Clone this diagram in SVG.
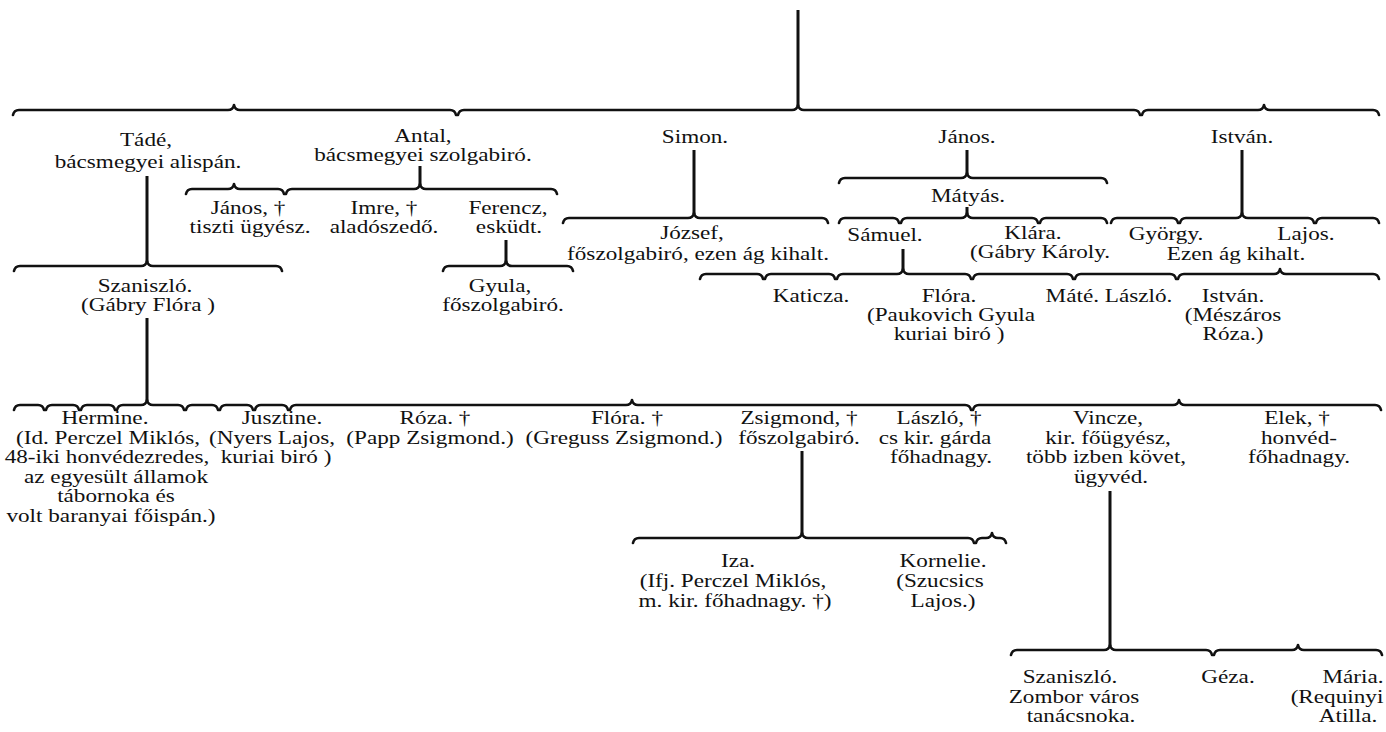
<svg xmlns="http://www.w3.org/2000/svg" width="1386" height="732" viewBox="0 0 1386 732">
<style>
.t{font-family:"Liberation Serif","DejaVu Serif","Times New Roman",serif;font-size:19px;text-anchor:middle;fill:#111}
.b{fill:none;stroke:#111;stroke-width:2.6;stroke-linecap:round;stroke-linejoin:round}
.v{stroke:#111;stroke-width:3;fill:none}
</style>
<rect width="1386" height="732" fill="#fff"/>
<g id="connectors">
<path class="b" d="M13,115 Q14,110 19,110 L228,110 Q233,110 234,105 M234,105 Q235,110 240,110 L450,110 Q455,110 456,115 M458,115 Q459,110 464,110 L792,110 Q797,110 798,105 M798,105 Q799,110 804,110 L1134,110 Q1139,110 1140,115 M1142,115 Q1143,110 1148,110 L1258,110 Q1263,110 1264,105 M1264,105 Q1265,110 1270,110 L1373,110 Q1378,110 1379,115"/>
<path class="b" d="M186,194 Q187,189 192,189 L228,189 Q233,189 234,184 M234,184 Q235,189 240,189 L278,189 Q283,189 284,194 M286,194 Q287,189 292,189 L414,189 Q419,189 420,184 M420,184 Q421,189 426,189 L551,189 Q556,189 557,194"/>
<path class="b" d="M563,223 Q564,218 569,218 L688,218 Q693,218 694,213 M694,213 Q695,218 700,218 L822,218 Q827,218 828,223"/>
<path class="b" d="M839,183 Q840,178 845,178 L961,178 Q966,178 967,173 M967,173 Q968,178 973,178 L1101,178 Q1106,178 1107,183"/>
<path class="b" d="M839,223 Q840,218 845,218 L893,218 Q898,218 899,223 M901,223 Q902,218 907,218 L961,218 Q966,218 967,213 M967,213 Q968,218 973,218 L1032,218 Q1037,218 1038,223 M1040,223 Q1041,218 1046,218 L1101,218 Q1106,218 1107,223"/>
<path class="b" d="M1111,223 Q1112,218 1117,218 L1172,218 Q1177,218 1178,223 M1180,223 Q1181,218 1186,218 L1236,218 Q1241,218 1242,213 M1242,213 Q1243,218 1248,218 L1308,218 Q1313,218 1314,223 M1316,223 Q1317,218 1322,218 L1373,218 Q1378,218 1379,223"/>
<path class="b" d="M14,271 Q15,266 20,266 L141,266 Q146,266 147,261 M147,261 Q148,266 153,266 L276,266 Q281,266 282,271"/>
<path class="b" d="M443,271 Q444,266 449,266 L500,266 Q505,266 506,261 M506,261 Q507,266 512,266 L567,266 Q572,266 573,271"/>
<path class="b" d="M700,279 Q701,274 706,274 L757,274 Q762,274 763,279 M765,279 Q766,274 771,274 L829,274 Q834,274 835,279 M837,279 Q838,274 843,274 L897,274 Q902,274 903,269 M903,269 Q904,274 909,274 L965,274 Q970,274 971,279 M973,279 Q974,274 979,274 L1067,274 Q1072,274 1073,279 M1075,279 Q1076,274 1081,274 L1170,274 Q1175,274 1176,279 M1178,279 Q1179,274 1184,274 L1274,274 Q1279,274 1280,269 M1280,269 Q1281,274 1286,274 L1373,274 Q1378,274 1379,279"/>
<path class="b" d="M14,410 Q15,405 20,405 L38,405 Q43,405 44,410 M46,410 Q47,405 52,405 L73,405 Q78,405 79,410 M81,410 Q82,405 87,405 L109,405 Q114,405 115,410 M117,410 Q118,405 123,405 L141,405 Q146,405 147,400 M147,400 Q148,405 153,405 L178,405 Q183,405 184,410 M186,410 Q187,405 192,405 L212,405 Q217,405 218,410 M220,410 Q221,405 226,405 L247,405 Q252,405 253,410 M255,410 Q256,405 261,405 L282,405 Q287,405 288,410 M290,410 Q291,405 296,405 L626,405 Q631,405 632,400 M632,400 Q633,405 638,405 L965,405 Q970,405 971,410 M973,410 Q974,405 979,405 L1173,405 Q1178,405 1179,400 M1179,400 Q1180,405 1185,405 L1375,405 Q1380,405 1381,410"/>
<path class="b" d="M633,543 Q634,538 639,538 L796,538 Q801,538 802,533 M802,533 Q803,538 808,538 L968,538 Q973,538 974,543 M976,543 Q977,538 982,538 L986,538 Q991,538 992,533 M992,533 Q993,538 998,538 L1000,538 Q1005,538 1006,543"/>
<path class="b" d="M1011,655 Q1012,650 1017,650 L1104,650 Q1109,650 1110,645 M1110,645 Q1111,650 1116,650 L1206,650 Q1211,650 1212,655 M1214,655 Q1215,650 1220,650 L1292,650 Q1297,650 1298,645 M1298,645 Q1299,650 1304,650 L1376,650 Q1381,650 1382,655"/>
<path class="v" d="M798,10 V106 M147,176 V262 M420,166 V185 M694,150 V214 M967,150 V174 M967,207 V214 M1242,150 V214 M506,240 V262 M147,318 V401 M903,249 V270 M802,451 V534 M1110,491 V646"/>
</g>
<g id="tade"><text class="t" transform="translate(146 146) scale(1.22 1)">Tádé,</text><text class="t" transform="translate(148 168) scale(1.22 1)">bácsmegyei alispán.</text></g>
<g id="antal"><text class="t" transform="translate(423 142) scale(1.22 1)">Antal,</text><text class="t" transform="translate(423 161) scale(1.22 1)">bácsmegyei szolgabiró.</text></g>
<g id="simon"><text class="t" transform="translate(695 143) scale(1.22 1)">Simon.</text></g>
<g id="janos"><text class="t" transform="translate(967 143) scale(1.22 1)">János.</text></g>
<g id="istvan"><text class="t" transform="translate(1242 143) scale(1.22 1)">István.</text></g>
<g id="janos2"><text class="t" transform="translate(248 214) scale(1.22 1)">János, †</text><text class="t" transform="translate(250 233) scale(1.22 1)">tiszti ügyész.</text></g>
<g id="imre"><text class="t" transform="translate(384 214) scale(1.22 1)">Imre, †</text><text class="t" transform="translate(384 233) scale(1.22 1)">aladószedő.</text></g>
<g id="ferencz"><text class="t" transform="translate(508 214) scale(1.22 1)">Ferencz,</text><text class="t" transform="translate(509 233) scale(1.22 1)">esküdt.</text></g>
<g id="jozsef"><text class="t" transform="translate(692 239) scale(1.22 1)">József,</text><text class="t" transform="translate(698 260) scale(1.22 1)">főszolgabiró, ezen ág kihalt.</text></g>
<g id="matyas"><text class="t" transform="translate(968 202) scale(1.22 1)">Mátyás.</text></g>
<g id="samuel"><text class="t" transform="translate(885 241) scale(1.22 1)">Sámuel.</text></g>
<g id="klara"><text class="t" transform="translate(1033 239) scale(1.22 1)">Klára.</text><text class="t" transform="translate(1040 258) scale(1.22 1)">(Gábry Károly.</text></g>
<g id="gyorgy"><text class="t" transform="translate(1166 240) scale(1.22 1)">György.</text></g>
<g id="lajos"><text class="t" transform="translate(1306 240) scale(1.22 1)">Lajos.</text></g>
<g id="kihalt"><text class="t" transform="translate(1236 260) scale(1.22 1)">Ezen ág kihalt.</text></g>
<g id="szaniszlo"><text class="t" transform="translate(145 292) scale(1.22 1)">Szaniszló.</text><text class="t" transform="translate(148 311) scale(1.22 1)">(Gábry Flóra )</text></g>
<g id="gyula"><text class="t" transform="translate(500 292) scale(1.22 1)">Gyula,</text><text class="t" transform="translate(503 311) scale(1.22 1)">főszolgabiró.</text></g>
<g id="katicza"><text class="t" transform="translate(811 302) scale(1.22 1)">Katicza.</text></g>
<g id="flora"><text class="t" transform="translate(949 302) scale(1.22 1)">Flóra.</text><text class="t" transform="translate(951 321) scale(1.22 1)">(Paukovich Gyula</text><text class="t" transform="translate(949 340) scale(1.22 1)">kuriai biró )</text></g>
<g id="mate-laszlo"><text class="t" transform="translate(1109 302) scale(1.22 1)">Máté. László.</text></g>
<g id="istvan2"><text class="t" transform="translate(1233 302) scale(1.22 1)">István.</text><text class="t" transform="translate(1233 321) scale(1.22 1)">(Mészáros</text><text class="t" transform="translate(1233 340) scale(1.22 1)">Róza.)</text></g>
<g id="hermine"><text class="t" transform="translate(105 424) scale(1.22 1)">Hermine.</text><text class="t" transform="translate(108 443.5) scale(1.22 1)">(Id. Perczel Miklós,</text><text class="t" transform="translate(107 463) scale(1.22 1)">48-iki honvédezredes,</text><text class="t" transform="translate(116 482.5) scale(1.22 1)">az egyesült államok</text><text class="t" transform="translate(116 502) scale(1.22 1)">tábornoka és</text><text class="t" transform="translate(111 521.5) scale(1.22 1)">volt baranyai főispán.)</text></g>
<g id="jusztine"><text class="t" transform="translate(282 424) scale(1.22 1)">Jusztine.</text><text class="t" transform="translate(272 443.5) scale(1.22 1)">(Nyers Lajos,</text><text class="t" transform="translate(276 463) scale(1.22 1)">kuriai biró )</text></g>
<g id="roza"><text class="t" transform="translate(435 424) scale(1.22 1)">Róza. †</text><text class="t" transform="translate(430 443.5) scale(1.22 1)">(Papp Zsigmond.)</text></g>
<g id="flora2"><text class="t" transform="translate(627 424) scale(1.22 1)">Flóra. †</text><text class="t" transform="translate(624 443.5) scale(1.22 1)">(Greguss Zsigmond.)</text></g>
<g id="zsigmond"><text class="t" transform="translate(799 424) scale(1.22 1)">Zsigmond, †</text><text class="t" transform="translate(799 443.5) scale(1.22 1)">főszolgabiró.</text></g>
<g id="laszlo"><text class="t" transform="translate(939 424) scale(1.22 1)">László, †</text><text class="t" transform="translate(935 443.5) scale(1.22 1)">cs kir. gárda</text><text class="t" transform="translate(941 463) scale(1.22 1)">főhadnagy.</text></g>
<g id="vincze"><text class="t" transform="translate(1108 424) scale(1.22 1)">Vincze,</text><text class="t" transform="translate(1108 443.5) scale(1.22 1)">kir. főügyész,</text><text class="t" transform="translate(1106 463) scale(1.22 1)">több izben követ,</text><text class="t" transform="translate(1111 482.5) scale(1.22 1)">ügyvéd.</text></g>
<g id="elek"><text class="t" transform="translate(1297 424) scale(1.22 1)">Elek, †</text><text class="t" transform="translate(1299 443.5) scale(1.22 1)">honvéd-</text><text class="t" transform="translate(1299 463) scale(1.22 1)">főhadnagy.</text></g>
<g id="iza"><text class="t" transform="translate(738 567) scale(1.22 1)">Iza.</text><text class="t" transform="translate(733 587) scale(1.22 1)">(Ifj. Perczel Miklós,</text><text class="t" transform="translate(735 607) scale(1.22 1)">m. kir. főhadnagy. †)</text></g>
<g id="kornelie"><text class="t" transform="translate(943 567) scale(1.22 1)">Kornelie.</text><text class="t" transform="translate(940 587) scale(1.22 1)">(Szucsics</text><text class="t" transform="translate(943 607) scale(1.22 1)">Lajos.)</text></g>
<g id="szaniszlo2"><text class="t" transform="translate(1070 683) scale(1.22 1)">Szaniszló.</text><text class="t" transform="translate(1074 703) scale(1.22 1)">Zombor város</text><text class="t" transform="translate(1081 722) scale(1.22 1)">tanácsnoka.</text></g>
<g id="geza"><text class="t" transform="translate(1228 683) scale(1.22 1)">Géza.</text></g>
<g id="maria"><text class="t" transform="translate(1353 683) scale(1.22 1)">Mária.</text><text class="t" transform="translate(1337 703) scale(1.22 1)">(Requinyi</text><text class="t" transform="translate(1348 722) scale(1.22 1)">Atilla.</text></g>
</svg>
